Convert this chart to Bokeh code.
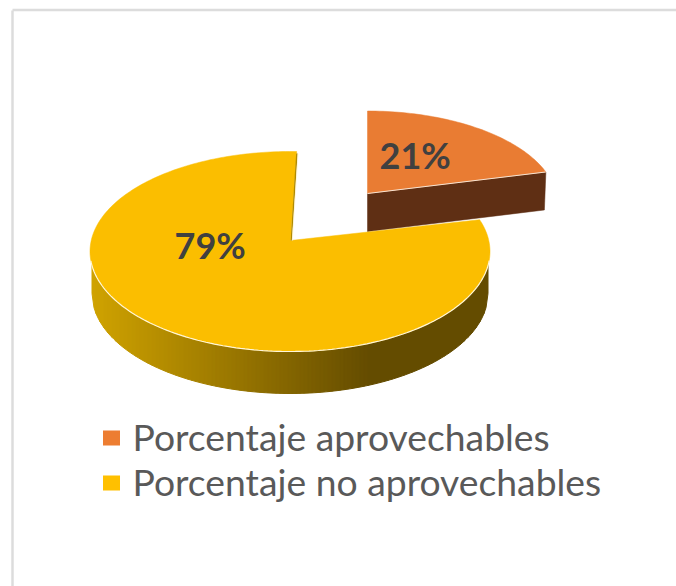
import numpy as np
from bokeh.plotting import figure
from bokeh.models import Range1d
from bokeh.core.properties import value
from bokeh.embed import file_html
from bokeh.resources import INLINE

# ---- data ----
categories = ["Porcentaje aprovechables", "Porcentaje no aprovechables"]
shares = [21, 79]
labels = ["21%", "79%"]
top_colors = ["#ED7D31", "#FFC000"]
pie_colors = ["#E97C33", "#FBBE00"]
wall_color = "#5F2F14"
wall_left = (207, 162, 0)
wall_right = (100, 76, 0)
text_color = "#404040"
legend_color = "#595959"
border_color = "#DCDCDC"

W, H = 676, 586
p = figure(width=W, height=H, output_backend="svg", toolbar_location=None,
           x_range=Range1d(0, W), y_range=Range1d(H, 0),
           min_border=0, outline_line_color=None, background_fill_color="white",
           border_fill_color="white")
p.xaxis.visible = False
p.yaxis.visible = False
p.grid.visible = False


def rim(apex, centre, rx, ry, flat, deg):
    """Point on an ellipse hit by a ray leaving the apex at a pie angle (screen y down)."""
    t = np.radians(deg)
    d = np.array([np.cos(t), -flat * np.sin(t)])
    o = np.array(apex, float) - np.array(centre, float)
    a = (d[0] / rx) ** 2 + (d[1] / ry) ** 2
    b = 2 * (o[0] * d[0] / rx ** 2 + o[1] * d[1] / ry ** 2)
    c = (o[0] / rx) ** 2 + (o[1] / ry) ** 2 - 1
    s = (-b + np.sqrt(b * b - 4 * a * c)) / (2 * a)
    return np.array(apex, float) + s * d


def arc(apex, centre, rx, ry, flat, d0, d1, n=120):
    pts = [rim(apex, centre, rx, ry, flat, d) for d in np.linspace(d0, d1, n)]
    return np.array(pts)


small_sweep = shares[0] / sum(shares) * 360
large_sweep = shares[1] / sum(shares) * 360

# ---- large slice: wall first ----
ax, ay = 290, 240
cx, cy = 289.5, 251
rx, ry = 200, 100
depth = 42
wall_rx = 198
xs = np.arange(cx - wall_rx, cx + wall_rx, 4.0)
strip_x, strip_y, strip_c = [], [], []
for x0 in xs:
    x1 = min(x0 + 4, cx + wall_rx)
    xx = np.linspace(x0, x1, 3)
    top = cy + ry * np.sqrt(np.clip(1 - ((xx - cx) / rx) ** 2, 0, 1)) - 2
    bot = cy + depth + ry * np.sqrt(np.clip(1 - ((xx - cx) / wall_rx) ** 2, 0, 1))
    strip_x.append(list(xx) + list(xx[::-1]))
    strip_y.append(list(bot) + list(top[::-1]))
    f = np.clip((x0 - (cx - wall_rx)) / 276, 0, 1)
    col = [int(round(wall_left[i] + (wall_right[i] - wall_left[i]) * f)) for i in range(3)]
    strip_c.append("#%02X%02X%02X" % tuple(col))
p.patches(strip_x, strip_y, fill_color=strip_c, line_color=strip_c, line_width=1)

# ---- small slice (exploded) wall sits behind the large slice ----
sx, sy = 367, 193
scx, scy = 367, 203.5
srx, sry = 190, 93
s_edge = arc((sx, sy), (scx, scy), srx, sry, 0.47, 90 - small_sweep, 90, 60)
tip = s_edge[0]
sd = 38
p.patch([sx, tip[0], tip[0] - 1.5, sx], [sy, tip[1], tip[1] + sd, sy + sd], fill_color=wall_color, line_color=wall_color, line_width=0.5)

# large slice top face
start = 88
edge = arc((ax, ay), (cx, cy), rx, ry, 0.5, start, start + large_sweep, 240)
p.patch([ax] + list(edge[:, 0]), [ay] + list(edge[:, 1]), fill_color=pie_colors[1], line_color=pie_colors[1], line_width=0.5)
# highlight on the front rim
front = edge[(edge[:, 1] > cy + 8)]
front = front[np.argsort(front[:, 0])]
p.line(front[:, 0], front[:, 1], line_color="#FFF6D8", line_width=1.2)
# inner wall sliver of the gap
p.line([edge[0, 0] + 0.2, ax + 0.8], [edge[0, 1] + 2, ay], line_color="#B08A00", line_width=1.5)
p.line([edge[0, 0] + 1.4, ax + 1.8], [edge[0, 1] + 2, ay], line_color="#FFF6D8", line_width=0.8)

# small slice top face
p.patch([sx] + list(s_edge[:, 0]), [sy] + list(s_edge[:, 1]), fill_color=pie_colors[0], line_color=pie_colors[0], line_width=0.5)
p.line([sx, tip[0]], [sy, tip[1]], line_color="#F6E3D2", line_width=1)

# ---- data labels ----
p.text([379, 174], [154, 244], text=labels, text_font=value("Lato"), text_font_style="bold",
       text_font_size="36px", text_color=text_color, text_align="left", text_baseline="alphabetic")

# ---- legend ----
leg_y = [437.5, 482.5]
p.rect([111, 111], leg_y, width=17, height=15, fill_color=top_colors, line_color=None)
p.text([132, 132], [436, 481], text=categories, text_font=value("Lato"), text_font_size="37.3px",
       text_color=legend_color, text_align="left", text_baseline="alphabetic")

# ---- frame of the pasted picture ----
p.line([12, 12], [10, 586], line_color=border_color, line_width=2.5)
p.line([12, 676], [9.5, 9.5], line_color=border_color, line_width=2.5)

open("out.html", "w").write(file_html(p, INLINE))
